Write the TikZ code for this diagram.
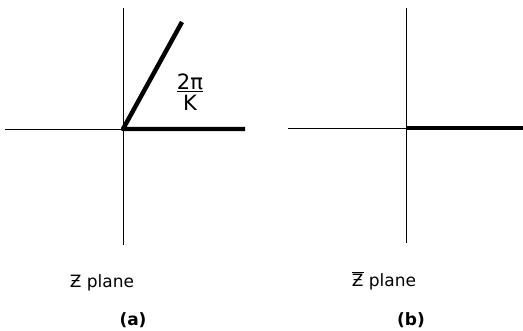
\documentclass[tikz,border=0pt]{standalone}
\usepackage{fontspec}
\setmainfont{DejaVu Sans}
\usetikzlibrary{positioning}

\begin{document}
\begin{tikzpicture}[
  x=0.03cm, y=0.03cm,
  axis/.style={line width=0.8pt},
  ray/.style={line width=3.8pt, line join=round},
  lbl/.style={font=\fontsize{14.5}{16}\selectfont, inner sep=0pt},
  tag/.style={font=\fontsize{14.5}{16}\selectfont\bfseries, inner sep=0pt},
  frac/.style={font=\fontsize{18}{19}\selectfont, inner sep=0pt, align=center}
]
  \useasboundingbox (0,0) rectangle (523,330);
  \coordinate (oa) at (123,201);
  \coordinate (na) at (123,322);
  \coordinate (sa) at (123,85);
  \coordinate (wa) at (5,201);
  \coordinate (ea) at (245,201);
  \coordinate (ta) at (182,308);
  \coordinate (ob) at (406,202);
  \coordinate (nb) at (406,322);
  \coordinate (sb) at (406,87);
  \coordinate (wb) at (288,202);
  \coordinate (eb) at (523,202);

  \draw[axis] (na) -- (sa);
  \draw[axis] (wa) -- (oa);
  \draw[ray] (ta) -- (oa) -- (ea);
  \node[frac] (ang) at (190,238) {\underline{2π}\\[-1pt]K};

  \draw[axis] (nb) -- (sb);
  \draw[axis] (wb) -- (ob);
  \draw[ray] (ob) -- (eb);

  \node[lbl] (za) at (102,47) {Ƶ plane};
  \node[tag] (pa) at (133,10) {(a)};
  \node[lbl] (zb) at (384,49) {$\overline{\hbox{Ƶ}}$ plane};
  \node[tag] (pb) at (411,10) {(b)};
\end{tikzpicture}
\end{document}
